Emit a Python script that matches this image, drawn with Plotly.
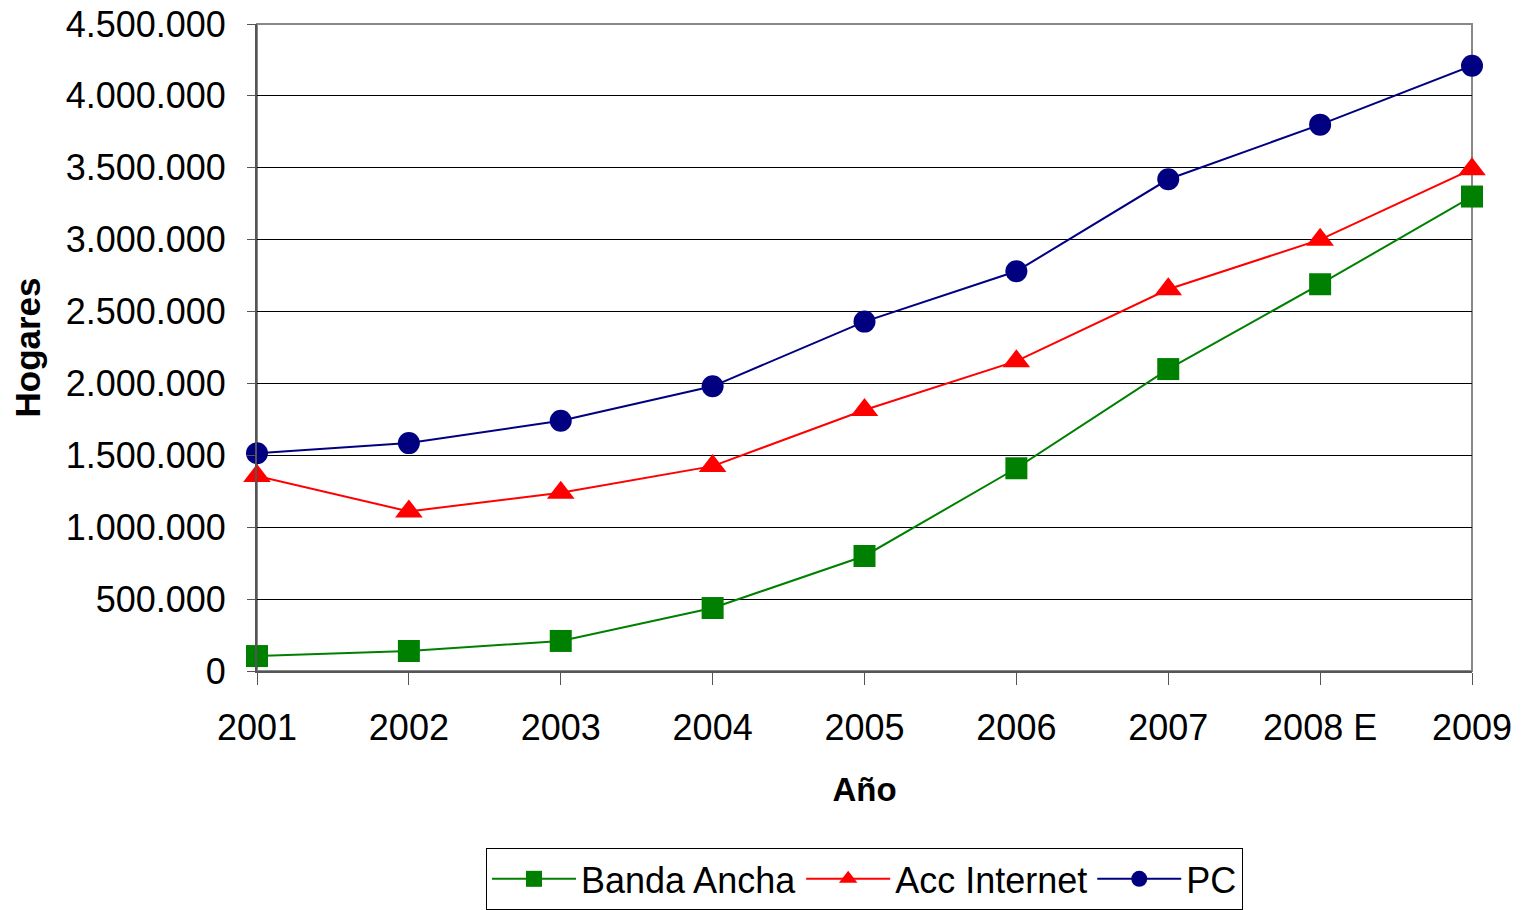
import plotly.graph_objects as go

# Datos
anios = ["2001", "2002", "2003", "2004", "2005", "2006", "2007", "2008 E", "2009"]
banda_ancha = [104000, 139000, 209000, 438000, 800000, 1410000, 2100000, 2690000, 3300000]
acc_internet = [1356000, 1110000, 1240000, 1425000, 1815000, 2155000, 2655000, 3000000, 3490000]
pc = [1515000, 1585000, 1740000, 1980000, 2430000, 2780000, 3420000, 3800000, 4210000]

series = [
    ("Banda Ancha", banda_ancha, "#008000", "square", 22),
    ("Acc Internet", acc_internet, "#ff0000", "triangle-up", 24),
    ("PC", pc, "#000080", "circle", 22),
]

fig = go.Figure()
for name, vals, color, symbol, msize in series:
    fig.add_trace(go.Scatter(
        x=anios, y=vals, name=name, mode="lines+markers",
        line=dict(color=color, width=2),
        marker=dict(symbol=symbol, size=msize, color=color),
        cliponaxis=False,
    ))

font = "Liberation Sans, Arial, sans-serif"

# la página añade 8px de margen al body
fig.update_layout(
    width=1522, height=910,
    margin=dict(l=249, r=58, t=16, b=247),
    plot_bgcolor="white", paper_bgcolor="white",
    separators=",.",
    font=dict(family=font, size=36, color="black"),
    showlegend=True,
    legend=dict(
        orientation="h", x=0.5, xanchor="center",
        yref="container", y=0.077, yanchor="top",
        bordercolor="black", borderwidth=1,
        font=dict(family="Liberation Sans Narrow, Arial Narrow, sans-serif", size=36),
        itemwidth=84, tracegroupgap=0,
    ),
)

fig.update_xaxes(
    type="category", range=[0, 8], automargin=False,
    showgrid=False, showline=True, linecolor="#555555", linewidth=2,
    mirror=False, ticks="outside", ticklen=12, tickcolor="#555555",
    ticklabelstandoff=12, ticklabeloverflow="allow",
    title=dict(text="<b>Año</b>", font=dict(size=33), standoff=31),
)
fig.update_yaxes(
    range=[0, 4500000], dtick=500000, tickformat=",d", automargin=False,
    showgrid=True, gridcolor="black", gridwidth=1,
    showline=True, linecolor="#555555", linewidth=2,
    ticks="outside", ticklen=8, tickcolor="#555555",
    ticklabelstandoff=14, ticklabeloverflow="allow", zeroline=False,
    title=dict(text="<b>Hogares</b>", font=dict(size=35), standoff=18),
)

# borde del área de trazado (superior y derecho)
fig.add_shape(type="rect", xref="paper", yref="paper", x0=0, y0=0, x1=1, y1=1,
              line=dict(color="#888888", width=2), layer="below")

fig.write_html("out.html")
